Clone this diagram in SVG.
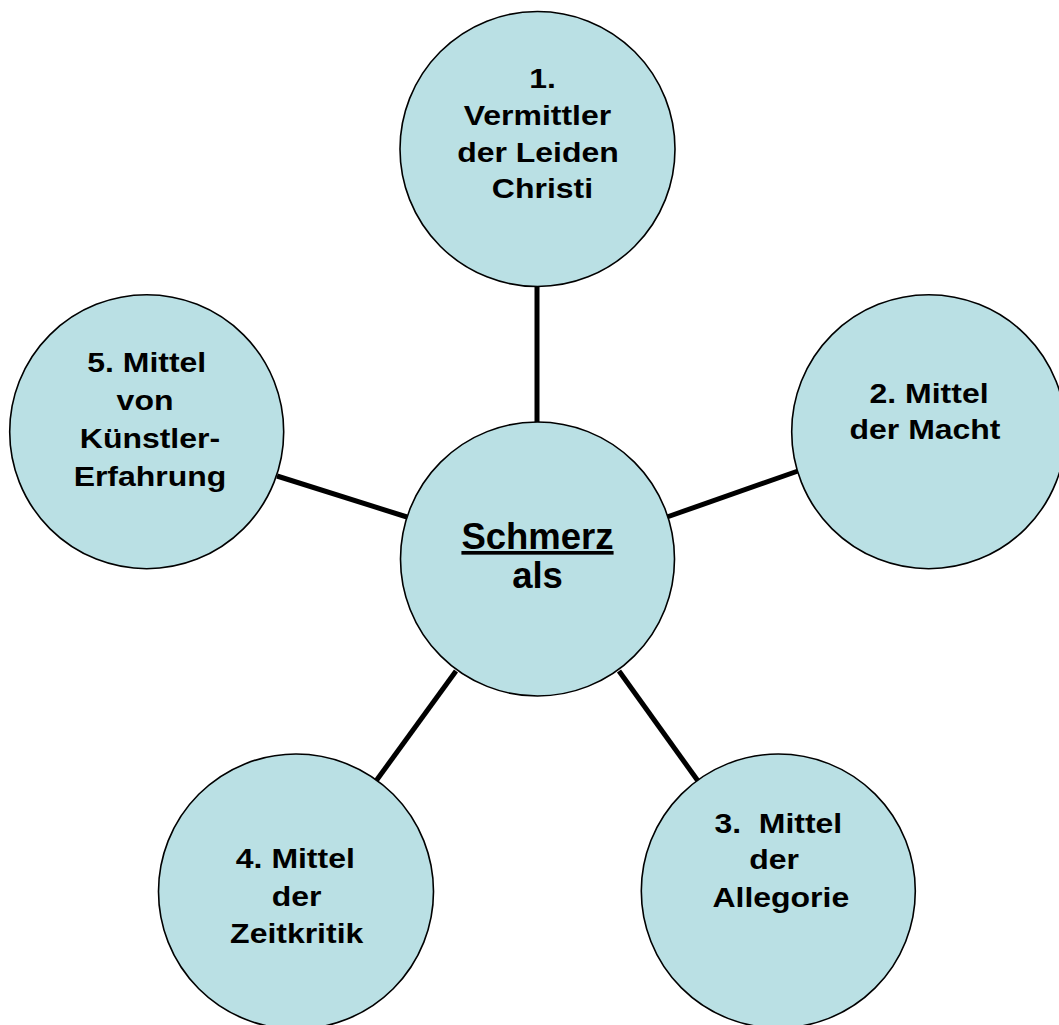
<svg xmlns="http://www.w3.org/2000/svg" width="1059" height="1025" viewBox="0 0 1059 1025">
<style>
.node{fill:#BAE0E4;stroke:#000;stroke-width:1.6}
.conn line{stroke:#000;stroke-width:5;stroke-linecap:butt}
text{font-family:"Liberation Sans",Arial,sans-serif;font-weight:bold;fill:#000;text-anchor:middle}
.s{font-size:27.8px}
.c{font-size:36.5px}
.u{text-decoration:underline;text-decoration-thickness:3.5px}
</style>
<rect width="1059" height="1025" fill="#fff"/>
<g id="connectors" class="conn">
<line x1="537" y1="286" x2="537" y2="424"/>
<line x1="667" y1="517" x2="798" y2="471"/>
<line x1="619" y1="671" x2="698" y2="781"/>
<line x1="456" y1="671" x2="376" y2="781"/>
<line x1="277" y1="476" x2="407" y2="517"/>
</g>
<g id="n1">
<circle class="node" cx="537.5" cy="149" r="137.5"/>
<g transform="translate(537.5,0) scale(1.15,1)">
<text class="s" x="4.3" y="88.3">1.</text>
<text class="s" x="0" y="125">Vermittler</text>
<text class="s" x="0.4" y="161.7">der Leiden</text>
<text class="s" x="4.3" y="198.3">Christi</text>
</g>
</g>
<g id="center">
<circle class="node" cx="537.5" cy="559" r="137"/>
<text class="c u" x="537.5" y="549">Schmerz</text>
<text class="c" x="537.5" y="588">als</text>
</g>
<g id="n2">
<circle class="node" cx="928.7" cy="431.7" r="137"/>
<g transform="translate(928.7,0) scale(1.15,1)">
<text class="s" x="0.3" y="402.7">2. Mittel</text>
<text class="s" x="-3.2" y="439.3">der Macht</text>
</g>
</g>
<g id="n3">
<circle class="node" cx="778.3" cy="891" r="137"/>
<g transform="translate(778.3,0) scale(1.15,1)">
<text class="s" x="0" y="832.7" xml:space="preserve">3.  Mittel</text>
<text class="s" x="-3.7" y="869.5">der</text>
<text class="s" x="2.2" y="906.7">Allegorie</text>
</g>
</g>
<g id="n4">
<circle class="node" cx="296" cy="891.5" r="137.5"/>
<g transform="translate(296,0) scale(1.15,1)">
<text class="s" x="-0.6" y="868.3">4. Mittel</text>
<text class="s" x="0.5" y="905.7">der</text>
<text class="s" x="0.6" y="943.3">Zeitkritik</text>
</g>
</g>
<g id="n5">
<circle class="node" cx="146.7" cy="431.7" r="137"/>
<g transform="translate(148,0) scale(1.15,1)">
<text class="s" x="-1.1" y="372">5. Mittel</text>
<text class="s" x="-2.6" y="410">von</text>
<text class="s" x="1.7" y="448">Künstler-</text>
<text class="s" x="1.7" y="486">Erfahrung</text>
</g>
</g>
</svg>
